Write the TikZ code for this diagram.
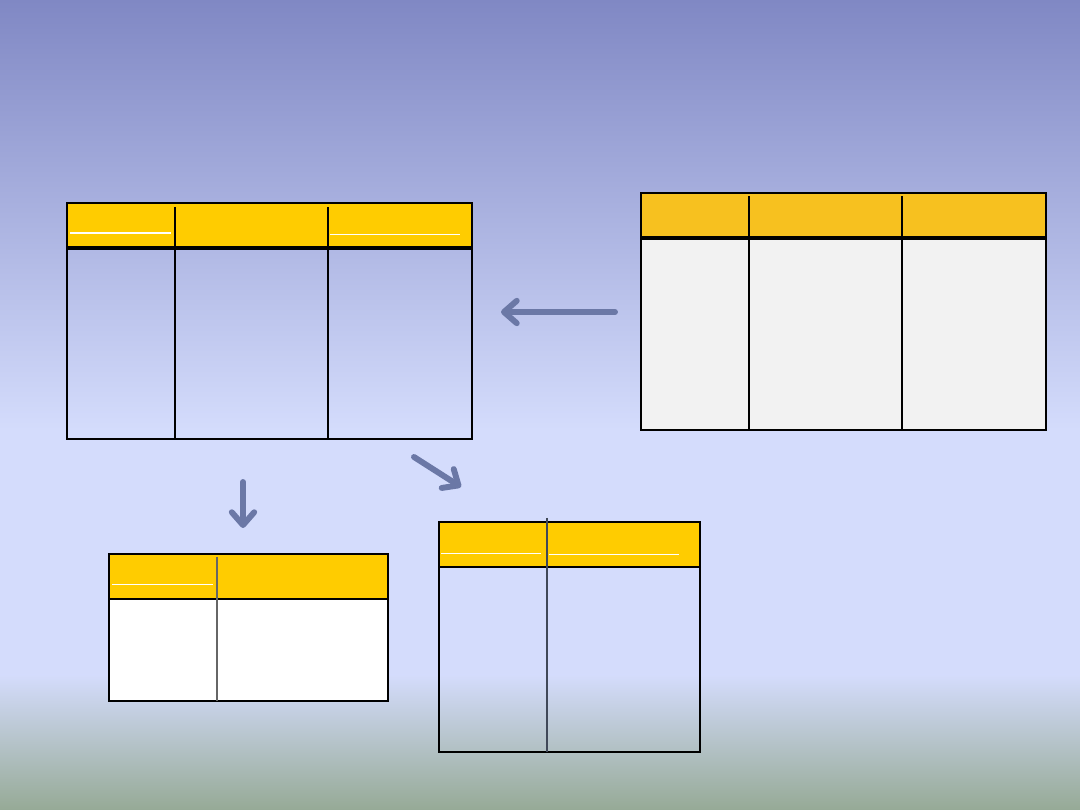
\documentclass[tikz,border=0pt]{standalone}
\usepackage{xcolor}
\usepackage{tikz}
\usetikzlibrary{arrows.meta,positioning}
\definecolor{bgtop}{HTML}{8088C4}
\definecolor{bgmid}{HTML}{D4DCFC}
\definecolor{bgbot}{HTML}{96AA96}
\definecolor{headyellow}{HTML}{FFCC00}
\definecolor{headorange}{HTML}{F7C11F}
\definecolor{paleGray}{HTML}{F2F2F2}
\definecolor{arrowblue}{HTML}{6B78A6}
\definecolor{coldark}{HTML}{404858}
\tikzset{
  grid line/.style={black, line width=1.2pt},
  head rule/.style={white, line width=1pt},
  flow arrow/.style={arrowblue, line width=4.2pt, line cap=round,
    -{Straight Barb[length=3.2mm,width=5.6mm,line cap=round,round]}}
}
\begin{document}
\begin{tikzpicture}[x=0.025cm,y=0.025cm]
        \useasboundingbox (0,0) rectangle (1080,810);

        % Draw the background
        \shade[top color=bgtop, bottom color=bgmid] (0,380) rectangle (1080,810);
        \fill[bgmid] (0,135) rectangle (1080,380);
        \shade[top color=bgmid, bottom color=bgbot] (0,0) rectangle (1080,135);

        % Top left table (three columns, open body)
        \coordinate (tlnw) at (67,607);
        \coordinate (tlse) at (472,371);
        \fill[headyellow] (67,563) rectangle (472,607);
        \draw[grid line] (67,563) rectangle (472,607);
        \draw[grid line] (67,371) rectangle (472,561);
        \foreach \x in {175,328}
            \draw[grid line] (\x,603) -- (\x,371);
        \draw[head rule, line width=1.6pt] (70,577) -- (171,577);
        \draw[head rule, line width=0.7pt] (330,576) -- (460,576);

        % Top right table (three columns, grey body)
        \coordinate (trnw) at (641,617);
        \coordinate (trse) at (1046,380);
        \fill[paleGray] (641,380) rectangle (1046,572);
        \fill[headorange] (641,572) rectangle (1046,617);
        \draw[grid line] (641,380) rectangle (1046,617);
        \draw[black, line width=2.4pt] (641,572) -- (1046,572);
        \foreach \x in {749,902}
            \draw[grid line] (\x,614) -- (\x,380);

        % Bottom left table (two columns, white body)
        \coordinate (blnw) at (109,256);
        \coordinate (blse) at (388,109);
        \fill[white] (109,109) rectangle (388,211);
        \fill[headyellow] (109,211) rectangle (388,256);
        \draw[grid line] (109,109) rectangle (388,256);
        \draw[black, line width=1.8pt] (109,211) -- (388,211);
        \draw[black!60, line width=1.3pt] (217,253) -- (217,109);
        \draw[head rule, line width=0.7pt] (112,226) -- (213,226);

        % Bottom right table (two columns, open body)
        \coordinate (brnw) at (439,288);
        \coordinate (brse) at (700,58);
        \fill[headyellow] (439,243) rectangle (700,288);
        \draw[grid line] (439,243) rectangle (700,288);
        \draw[grid line] (439,249) -- (439,58) -- (700,58) -- (700,243);
        \draw[coldark, line width=1.5pt] (547,292) -- (547,58);
        \draw[head rule, line width=0.7pt] (441,257) -- (541,257);
        \draw[head rule, line width=0.7pt] (549,256) -- (679,256);

        % Arrows between the tables
        \coordinate (fromright) at (615,498);
        \coordinate (toleft) at (501,498);
        \coordinate (fromtl) at (414,353);
        \coordinate (tobr) at (461,323);
        \coordinate (fromtop) at (243,328);
        \coordinate (tobl) at (243,282);
        \draw[flow arrow] (fromright) -- (toleft);
        \draw[flow arrow] (fromtl) -- (tobr);
        \draw[flow arrow] (fromtop) -- (tobl);
    \end{tikzpicture}
\end{document}
